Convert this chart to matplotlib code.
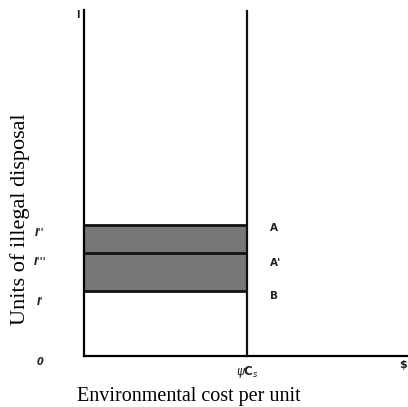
import matplotlib
matplotlib.use("Agg")
import matplotlib.pyplot as plt

# cost axis: the disposal cost threshold (psi C_s) sits at 1
cost_threshold = 1.0
x_max = 1.99
y_max = 1.0

# levels of illegal disposal
level_names = ["I'", "I'''", "I''"]
level_values = [0.188, 0.298, 0.379]
point_names = ["B", "A'", "A"]

# where the hand-drawn labels sit (slightly below the lines in the scan)
ytick_label_pos = [0.157, 0.272, 0.355, -0.017]
ytick_labels = ["I'", "I'''", "I''", "0"]
point_label_pos = [0.173, 0.270, 0.370]


def main():
    fig = plt.figure(figsize=(4.08, 4.07), dpi=100)
    ax = fig.add_axes([84 / 408, 51 / 407, 324 / 408, 346 / 407])
    ax.set_xlim(0, x_max)
    ax.set_ylim(0, y_max)

    for s in ["top", "right"]:
        ax.spines[s].set_visible(False)
    ax.spines["left"].set_linewidth(1.6)
    ax.spines["bottom"].set_linewidth(1.6)
    ax.set_xticks([])
    ax.set_yticks([])

    # shaded band between I' and I''
    ax.fill_between([0, cost_threshold], level_values[0], level_values[2],
                    color="#777777", lw=0)
    for v in level_values:
        ax.plot([0, cost_threshold], [v, v], color="#111111", lw=2.0,
                solid_capstyle="butt")

    # vertical line at psi C_s
    ax.plot([cost_threshold, cost_threshold], [0, 0.997], color="#111111",
            lw=1.6, clip_on=False)

    for name, pos in zip(point_names, point_label_pos):
        ax.text(cost_threshold + 0.14, pos, name, fontsize=7.5,
                fontweight="bold", ha="left", va="center", color="#222222")

    for lab, pos in zip(ytick_labels, ytick_label_pos):
        ax.text(-0.27, pos, lab, fontsize=7, fontweight="bold", style="italic",
                ha="center", va="center", color="#222222", clip_on=False)

    ax.text(-0.04, 0.985, "I", fontsize=7, fontweight="bold",
            ha="center", va="center", color="#222222", clip_on=False)
    ax.text(cost_threshold, -0.045, r"$\psi$C$_s$", fontsize=8.5,
            fontweight="bold", ha="center", va="center", color="#222222")
    ax.text(1.96, -0.026, r"\$", fontsize=8, fontweight="bold",
            ha="center", va="center", color="#222222", clip_on=False)

    fig.text(189 / 408, 1 - 397 / 407, "Environmental cost per unit",
             family="Liberation Serif", fontsize=14.5, ha="center", va="center")
    fig.text(20 / 408, 1 - 219 / 407, "Units of illegal disposal",
             family="Liberation Serif", fontsize=16, rotation=90,
             ha="center", va="center")

    fig.savefig("out.png", dpi=100)


if __name__ == "__main__":
    main()
